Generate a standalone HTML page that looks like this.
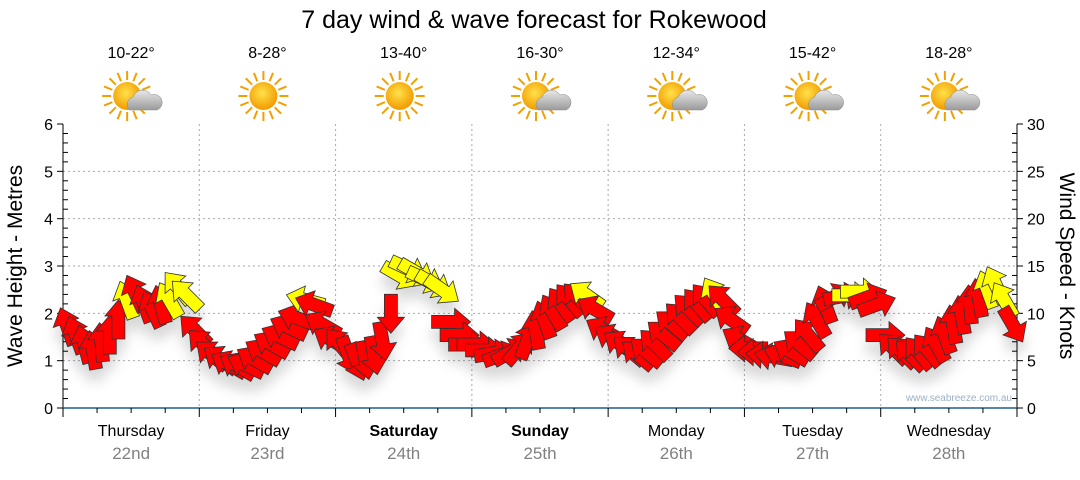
<!DOCTYPE html>
<html><head><meta charset="utf-8"><style>
body{margin:0;background:#fff;}
svg text{font-family:"Liberation Sans",sans-serif;}
</style></head><body>
<svg id="chart" width="1080" height="475" xmlns="http://www.w3.org/2000/svg">
<defs>
<filter id="sh" x="-50%" y="-50%" width="200%" height="200%"><feDropShadow dx="0" dy="12" stdDeviation="6" flood-color="#000" flood-opacity="0.15"/></filter>
<radialGradient id="sun" cx="45%" cy="40%" r="60%"><stop offset="0" stop-color="#ffe14a"/><stop offset="1" stop-color="#f29a00"/></radialGradient>
<linearGradient id="cloud" x1="0" y1="0" x2="0" y2="1"><stop offset="0" stop-color="#e8e8e8"/><stop offset="1" stop-color="#9a9a9a"/></linearGradient>
</defs>
<text x="534" y="28" font-size="25" text-anchor="middle" fill="#000">7 day wind &amp; wave forecast for Rokewood</text>
<g id="grid"></g>
<g id="axes"></g>
<g id="icons"></g>
<g id="arrows" filter="url(#sh)"></g>
<text transform="translate(22,266) rotate(-90)" font-size="21" text-anchor="middle">Wave Height - Metres</text>
<text transform="translate(1060,266) rotate(90)" font-size="21" text-anchor="middle">Wind Speed - Knots</text>
<text x="1012" y="401" font-size="10" text-anchor="end" fill="#9bb0c8">www.seabreeze.com.au</text>
</svg>
<script>
const days=["Thursday","Friday","Saturday","Sunday","Monday","Tuesday","Wednesday"];
const dates=["22nd","23rd","24th","25th","26th","27th","28th"];
const temps=["10-22°","8-28°","13-40°","16-30°","12-34°","15-42°","18-28°"];
const weather=["cloudy","sunny","sunny","cloudy","cloudy","cloudy","cloudy"];
const waveTicks=[0,1,2,3,4,5,6];
const windTicks=[0,5,10,15,20,25,30];
const windSpeed=[
8.6,7.7,6.7,6.1,6.9,7.7,9.3,11.4,12.1,11.0,10.4,10.9,11.4,12.7,11.9,8.2,
6.7,5.6,5.1,4.6,4.4,4.5,5.1,5.9,6.7,7.5,8.5,9.5,11.4,10.9,8.8,7.2,
6.7,5.6,4.9,5.1,5.6,7.1,10.0,14.0,14.7,14.3,13.6,13.1,12.5,9.1,7.7,6.7,
6.7,6.1,5.8,5.6,5.9,6.3,7.1,8.2,9.3,10.1,10.9,11.4,11.6,11.9,10.4,8.2,
7.4,6.7,6.1,5.6,5.9,6.7,7.7,8.8,9.5,10.4,10.9,11.4,11.9,11.4,9.3,7.2,
6.3,5.9,5.6,5.4,5.5,5.9,6.7,7.7,9.3,10.9,11.7,11.8,11.9,12.3,11.7,10.9,
7.7,6.3,5.9,5.6,5.8,6.1,6.7,7.7,8.8,9.8,10.9,11.6,12.5,13.0,11.4,8.8];
const windDir=[
-20,-20,-15,-10,-5,0,0,-20,-25,-20,-25,-15,-30,-40,-45,-45,
-45,-50,-55,-60,-60,-65,-60,-60,-60,-65,-65,-70,-75,-70,-60,-60,
-40,160,160,170,170,170,180,120,115,120,115,120,125,90,90,90,
90,90,80,70,60,40,20,-10,-20,-30,-35,-40,-45,-55,-60,-60,
-60,-55,-50,-50,-50,-45,-50,-50,-45,-45,-40,-40,-30,-45,-55,-60,
-90,-90,-85,-80,-70,-60,-50,-40,-30,-20,60,80,90,90,70,70,
90,-45,-45,-45,-40,-40,-30,-20,-10,-10,-5,-10,-20,-25,-30,150];
const strongFlag=[
0,0,0,0,0,0,0,1,0,0,0,0,1,1,1,0,
0,0,0,0,0,0,0,0,0,0,0,0,1,0,0,0,
0,0,0,0,0,0,0,1,1,1,1,1,1,0,0,0,
0,0,0,0,0,0,0,0,0,0,0,0,0,1,0,0,
0,0,0,0,0,0,0,0,0,0,0,0,1,0,0,0,
0,0,0,0,0,0,0,0,0,0,0,0,1,1,0,0,
0,0,0,0,0,0,0,0,0,0,0,0,1,1,1,0];

const NS="http://www.w3.org/2000/svg";
const X0=63,X1=1017,Y0=408,Y1=124;
const xT=t=>X0+(X1-X0)*t/7;
const yW=m=>Y0-(Y0-Y1)*m/6;
const yK=k=>Y0-(Y0-Y1)*k/30;
function mk(tag,attrs,parent){const e=document.createElementNS(NS,tag);for(const k in attrs)e.setAttribute(k,attrs[k]);parent.appendChild(e);return e;}
const grid=document.getElementById('grid'),axes=document.getElementById('axes'),icons=document.getElementById('icons'),arr=document.getElementById('arrows');
waveTicks.forEach(v=>{if(v>0&&v<6){const l=mk('line',{x1:X0,x2:X1,y1:yW(v),y2:yW(v),stroke:'#aaa','stroke-dasharray':'2,3'},grid);}
 const t=mk('text',{x:X0-10,y:yW(v)+6,'font-size':16,'text-anchor':'end'},axes);t.textContent=v;
 mk('line',{x1:X0-6,x2:X0,y1:yW(v),y2:yW(v),stroke:'#000'},axes);});
for(let i=1;i<30;i++){if(i%5)mk('line',{x1:X0,x2:X0+5,y1:yK(i),y2:yK(i),stroke:'#000'},axes);}
windTicks.forEach(v=>{const t=mk('text',{x:X1+10,y:yK(v)+6,'font-size':16},axes);t.textContent=v;
 mk('line',{x1:X1,x2:X1+6,y1:yK(v),y2:yK(v),stroke:'#000'},axes);});
for(let i=1;i<30;i++){if(i%5)mk('line',{x1:X1-5,x2:X1,y1:yK(i),y2:yK(i),stroke:'#000'},axes);}
mk('line',{x1:X0,x2:X0,y1:Y1,y2:Y0+8,stroke:'#000'},axes);
mk('line',{x1:X1,x2:X1,y1:Y1,y2:Y0+8,stroke:'#000'},axes);
mk('line',{x1:X0,x2:X1,y1:Y0,y2:Y0,stroke:'#1f5f8b','stroke-width':1.5},axes);
for(let q=0;q<=28;q++){const x=xT(q/4);const big=q%4==0;mk('line',{x1:x,x2:x,y1:Y0,y2:Y0+(big?9:5),stroke:'#000'},axes);
 if(big&&q>0&&q<28){const l=mk('line',{x1:x,x2:x,y1:Y1,y2:Y0,stroke:'#aaa','stroke-dasharray':'2,3'},grid);}}
days.forEach((d,i)=>{const cx=xT(i+0.5);const bold=(i==2||i==3);
 const a=mk('text',{x:cx,y:436,'font-size':16,'text-anchor':'middle','font-weight':bold?'bold':'normal'},axes);a.textContent=d;
 const b=mk('text',{x:cx,y:459,'font-size':17,'text-anchor':'middle',fill:'#808080'},axes);b.textContent=dates[i];
 const t=mk('text',{x:cx,y:58,'font-size':16,'text-anchor':'middle'},icons);t.textContent=temps[i];
 const g=mk('g',{transform:`translate(${cx-4},96)`},icons);
 for(let k=0;k<16;k++){const an=k*Math.PI/8;mk('line',{x1:Math.cos(an)*16,y1:Math.sin(an)*16,x2:Math.cos(an)*25,y2:Math.sin(an)*25,stroke:'#f2a000','stroke-width':2},g);}
 mk('circle',{cx:0,cy:0,r:14,fill:'url(#sun)'},g);
 if(weather[i]=='cloudy'){mk('path',{d:'M2,14 a8,8 0 0 1 4,-13 a10,10 0 0 1 18,-2 a8,8 0 0 1 6,15 z',fill:'url(#cloud)',stroke:'#888','stroke-width':0.5},g);}
});
const N=windSpeed.length;
for(let i=0;i<N;i++){const t=(i+0.5)/16;const x=xT(t),y=yK(windSpeed[i]);
 const p=mk('polygon',{points:'0,-20 13.5,-4 6.5,-4 6.5,19 -6.5,19 -6.5,-4 -13.5,-4',transform:`translate(${x.toFixed(1)},${y.toFixed(1)}) rotate(${windDir[i]})`,fill:strongFlag[i]?'#ffff00':'#ff0000',stroke:'#333','stroke-width':0.8},arr);
 
 }
</script>
</body></html>
